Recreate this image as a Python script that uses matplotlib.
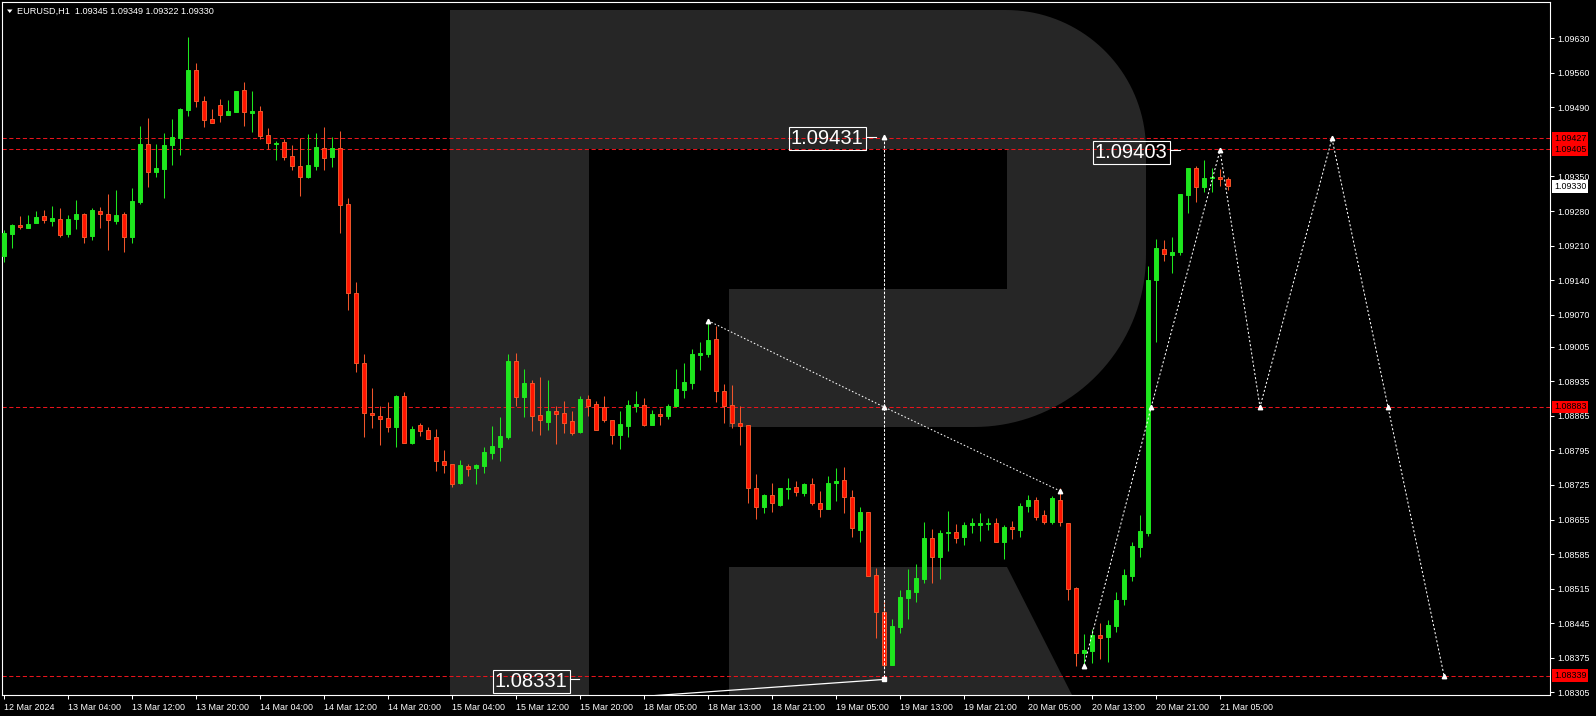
import numpy as np
import matplotlib
matplotlib.use('Agg')
import matplotlib.pyplot as plt
from matplotlib.patches import Polygon, Rectangle
from matplotlib.transforms import blended_transform_factory

plt.rcParams['font.family'] = ['Liberation Sans', 'DejaVu Sans']

# ---- data (EURUSD H1) ----
bar_open = [
    1.09188, 1.09234, 1.09252, 1.09246, 1.09256, 1.09270, 1.09260, 1.09264, 1.09234, 1.09263,
    1.09274, 1.09230, 1.09280, 1.09274, 1.09260, 1.09274, 1.09228, 1.09299, 1.09416, 1.09360,
    1.09366, 1.09414, 1.09428, 1.09485, 1.09566, 1.09503, 1.09467, 1.09495, 1.09475, 1.09481,
    1.09525, 1.09479, 1.09483, 1.09434, 1.09416, 1.09420, 1.09392, 1.09371, 1.09348, 1.09372,
    1.09408, 1.09390, 1.09408, 1.09294, 1.09113, 1.08972, 1.08870, 1.08865, 1.08860, 1.08843,
    1.08905, 1.08811, 1.08847, 1.08836, 1.08822, 1.08774, 1.08768, 1.08728, 1.08764, 1.08760,
    1.08764, 1.08790, 1.08801, 1.08823, 1.08976, 1.08904, 1.08932, 1.08867, 1.08853, 1.08875,
    1.08871, 1.08855, 1.08832, 1.08899, 1.08889, 1.08883, 1.08857, 1.08827, 1.08845, 1.08885,
    1.08887, 1.08847, 1.08869, 1.08865, 1.08884, 1.08918, 1.08932, 1.08989, 1.08990, 1.09020,
    1.08915, 1.08887, 1.08850, 1.08846, 1.08718, 1.08681, 1.08704, 1.08685, 1.08716, 1.08720,
    1.08709, 1.08727, 1.08688, 1.08677, 1.08728, 1.08735, 1.08700, 1.08634, 1.08670, 1.08542,
    1.08468, 1.08361, 1.08438, 1.08497, 1.08509, 1.08535, 1.08618, 1.08579, 1.08628, 1.08629,
    1.08620, 1.08643, 1.08643, 1.08645, 1.08647, 1.08610, 1.08639, 1.08634, 1.08682, 1.08695,
    1.08664, 1.08651, 1.08694, 1.08648, 1.08516, 1.08384, 1.08389, 1.08421, 1.08416, 1.08440,
    1.08493, 1.08541, 1.08600, 1.08628, 1.09140, 1.09203, 1.09190, 1.09196, 1.09313, 1.09367,
    1.09329, 1.09347, 1.09349, 1.09345,
]
bar_high = [
    1.09242, 1.09254, 1.09270, 1.09272, 1.09280, 1.09282, 1.09290, 1.09286, 1.09272, 1.09302,
    1.09277, 1.09286, 1.09288, 1.09315, 1.09323, 1.09278, 1.09327, 1.09452, 1.09469, 1.09416,
    1.09438, 1.09467, 1.09489, 1.09633, 1.09580, 1.09513, 1.09487, 1.09507, 1.09505, 1.09523,
    1.09542, 1.09523, 1.09493, 1.09448, 1.09422, 1.09426, 1.09414, 1.09428, 1.09436, 1.09438,
    1.09450, 1.09430, 1.09442, 1.09307, 1.09137, 1.08990, 1.08922, 1.08885, 1.08893, 1.08907,
    1.08913, 1.08845, 1.08851, 1.08843, 1.08838, 1.08796, 1.08768, 1.08776, 1.08768, 1.08768,
    1.08802, 1.08845, 1.08863, 1.08990, 1.08992, 1.08960, 1.08938, 1.08944, 1.08938, 1.08885,
    1.08895, 1.08875, 1.08905, 1.08907, 1.08895, 1.08905, 1.08857, 1.08875, 1.08897, 1.08915,
    1.08901, 1.08877, 1.08881, 1.08889, 1.08960, 1.08972, 1.09001, 1.09015, 1.09057, 1.09047,
    1.08929, 1.08928, 1.08885, 1.08846, 1.08747, 1.08707, 1.08729, 1.08718, 1.08739, 1.08733,
    1.08729, 1.08739, 1.08713, 1.08743, 1.08759, 1.08762, 1.08715, 1.08680, 1.08670, 1.08557,
    1.08492, 1.08454, 1.08512, 1.08555, 1.08565, 1.08650, 1.08636, 1.08634, 1.08672, 1.08645,
    1.08650, 1.08658, 1.08668, 1.08658, 1.08658, 1.08643, 1.08652, 1.08689, 1.08705, 1.08701,
    1.08674, 1.08703, 1.08719, 1.08648, 1.08518, 1.08424, 1.08433, 1.08445, 1.08451, 1.08508,
    1.08555, 1.08609, 1.08664, 1.09169, 1.09223, 1.09222, 1.09227, 1.09315, 1.09367, 1.09371,
    1.09383, 1.09367, 1.09365, 1.09349,
]
bar_low = [
    1.09177, 1.09206, 1.09244, 1.09246, 1.09256, 1.09256, 1.09250, 1.09228, 1.09228, 1.09244,
    1.09216, 1.09222, 1.09246, 1.09202, 1.09254, 1.09196, 1.09216, 1.09295, 1.09329, 1.09348,
    1.09307, 1.09374, 1.09394, 1.09473, 1.09491, 1.09451, 1.09459, 1.09461, 1.09475, 1.09481,
    1.09453, 1.09441, 1.09425, 1.09406, 1.09384, 1.09384, 1.09364, 1.09311, 1.09346, 1.09364,
    1.09364, 1.09370, 1.09236, 1.09080, 1.08953, 1.08823, 1.08841, 1.08805, 1.08833, 1.08801,
    1.08811, 1.08809, 1.08825, 1.08819, 1.08754, 1.08750, 1.08720, 1.08726, 1.08744, 1.08726,
    1.08750, 1.08778, 1.08774, 1.08819, 1.08886, 1.08863, 1.08835, 1.08827, 1.08837, 1.08809,
    1.08831, 1.08827, 1.08831, 1.08865, 1.08837, 1.08853, 1.08809, 1.08797, 1.08823, 1.08872,
    1.08845, 1.08847, 1.08847, 1.08859, 1.08884, 1.08902, 1.08920, 1.08957, 1.08984, 1.08893,
    1.08850, 1.08840, 1.08805, 1.08688, 1.08656, 1.08668, 1.08671, 1.08682, 1.08697, 1.08703,
    1.08703, 1.08685, 1.08661, 1.08677, 1.08693, 1.08669, 1.08620, 1.08610, 1.08541, 1.08414,
    1.08357, 1.08361, 1.08425, 1.08453, 1.08487, 1.08527, 1.08527, 1.08534, 1.08592, 1.08608,
    1.08604, 1.08628, 1.08612, 1.08634, 1.08609, 1.08576, 1.08615, 1.08620, 1.08671, 1.08655,
    1.08645, 1.08645, 1.08642, 1.08491, 1.08359, 1.08363, 1.08365, 1.08373, 1.08366, 1.08428,
    1.08481, 1.08531, 1.08579, 1.08621, 1.09014, 1.09179, 1.09155, 1.09191, 1.09277, 1.09298,
    1.09318, 1.09318, 1.09330, 1.09322,
]
bar_close = [
    1.09236, 1.09252, 1.09248, 1.09254, 1.09268, 1.09261, 1.09266, 1.09232, 1.09264, 1.09274,
    1.09228, 1.09282, 1.09275, 1.09261, 1.09272, 1.09228, 1.09300, 1.09416, 1.09360, 1.09367,
    1.09414, 1.09430, 1.09487, 1.09566, 1.09502, 1.09465, 1.09459, 1.09475, 1.09483, 1.09523,
    1.09481, 1.09483, 1.09433, 1.09417, 1.09417, 1.09390, 1.09372, 1.09348, 1.09373, 1.09410,
    1.09388, 1.09408, 1.09293, 1.09113, 1.08973, 1.08870, 1.08866, 1.08858, 1.08843, 1.08905,
    1.08811, 1.08838, 1.08835, 1.08819, 1.08774, 1.08766, 1.08726, 1.08766, 1.08757, 1.08766,
    1.08792, 1.08804, 1.08824, 1.08976, 1.08904, 1.08932, 1.08865, 1.08857, 1.08875, 1.08869,
    1.08851, 1.08831, 1.08899, 1.08886, 1.08837, 1.08857, 1.08827, 1.08849, 1.08887, 1.08889,
    1.08847, 1.08869, 1.08865, 1.08885, 1.08920, 1.08934, 1.08990, 1.08992, 1.09019, 1.08916,
    1.08886, 1.08850, 1.08845, 1.08718, 1.08680, 1.08704, 1.08688, 1.08718, 1.08719, 1.08711,
    1.08727, 1.08688, 1.08676, 1.08729, 1.08733, 1.08700, 1.08637, 1.08670, 1.08541, 1.08468,
    1.08361, 1.08439, 1.08498, 1.08512, 1.08537, 1.08618, 1.08579, 1.08628, 1.08630, 1.08618,
    1.08643, 1.08648, 1.08648, 1.08648, 1.08610, 1.08639, 1.08636, 1.08682, 1.08695, 1.08661,
    1.08651, 1.08699, 1.08649, 1.08515, 1.08384, 1.08391, 1.08421, 1.08414, 1.08441, 1.08492,
    1.08543, 1.08601, 1.08632, 1.09140, 1.09205, 1.09192, 1.09197, 1.09315, 1.09367, 1.09329,
    1.09347, 1.09348, 1.09344, 1.09330,
]

time_labels = ['12 Mar 2024', '13 Mar 04:00', '13 Mar 12:00', '13 Mar 20:00', '14 Mar 04:00',
               '14 Mar 12:00', '14 Mar 20:00', '15 Mar 04:00', '15 Mar 12:00', '15 Mar 20:00',
               '18 Mar 05:00', '18 Mar 13:00', '18 Mar 21:00', '19 Mar 05:00', '19 Mar 13:00',
               '19 Mar 21:00', '20 Mar 05:00', '20 Mar 13:00', '20 Mar 21:00', '21 Mar 05:00']
label_every = 8

price_ticks = [1.09630, 1.09560, 1.09490, 1.09350, 1.09280, 1.09210, 1.09140, 1.09070,
               1.09005, 1.08935, 1.08865, 1.08795, 1.08725, 1.08655, 1.08585, 1.08515,
               1.08445, 1.08375, 1.08305]
levels = [1.09427, 1.09405, 1.08883, 1.08339]
last_price = 1.09330

# forecast path (bar, price)
forecast_bars = [135, 143.4, 152, 157, 166, 173, 180]
forecast_prices = [1.08359, 1.08883, 1.09403, 1.08883, 1.09427, 1.08883, 1.08339]
# triangle side from the 18 Mar top
tri_bars = [88, 110, 132]
tri_prices = [1.09058, 1.08883, 1.08713]
# vertical measure + bottom trendline
vert_bar = 110
vert_prices = [1.09431, 1.08331]
trend_bars = [60, 110]
trend_prices = [1.08274, 1.08331]
# text boxes: (text, right-edge bar, connector end bar, price)
boxes = [('1.09431', 107.75, 109.0, 1.09431),
         ('1.09403', 145.75, 147.0, 1.09403),
         ('1.08331', 70.75, 71.9, 1.08331)]

# ---- figure ----
W, H, DPI = 1596, 716, 100
fig = plt.figure(figsize=(W / DPI, H / DPI), dpi=DPI, facecolor='black')

# watermark "R" drawn in pixel space on a background axes
bg = fig.add_axes([0, 0, 1, 1], zorder=0)
bg.set_xlim(0, W)
bg.set_ylim(H, 0)
bg.axis('off')
logo_col = '#262626'


def arc(cx, cy, r, a0, a1, n=40):
    t = np.radians(np.linspace(a0, a1, n))
    return list(zip(cx + r * np.cos(t), cy - r * np.sin(t)))


rt, rb = 140, 172
bowl = [(589, 10), (1146 - rt, 10)] + arc(1146 - rt, 10 + rt, rt, 90, 0) \
    + arc(1146 - rb, 427 - rb, rb, 0, -90) \
    + [(729, 427), (729, 289), (1007, 289), (1007, 149), (589, 149)]
bg.add_patch(Polygon(bowl, closed=True, fc=logo_col, ec='none'))
bg.add_patch(Rectangle((450, 10), 139, 685, fc=logo_col, ec='none'))
bg.add_patch(Polygon([(729, 567), (1007, 567), (1072, 695), (729, 695)],
                     closed=True, fc=logo_col, ec='none'))

# header
bg.add_patch(Polygon([(7, 9.5), (12.5, 9.5), (9.75, 13)], closed=True, fc='white', ec='none'))
bg.text(17, 11.5, 'EURUSD,H1  1.09345 1.09349 1.09322 1.09330', color='white',
        fontsize=6.6, va='center', ha='left')

# main axes
ax = fig.add_axes([2 / W, 1 - 695 / H, 1548 / W, 693 / H], zorder=1)
ax.set_facecolor('none')
ax.set_xlim(-0.25, 193.25)
ax.set_ylim(1.082995, 1.097035)

o = np.array(bar_open)
h = np.array(bar_high)
l = np.array(bar_low)
c = np.array(bar_close)
x = np.arange(len(o))
up = c >= o

green = '#1ee61e'
red_fill = '#ff1400'
red_edge = '#f0552a'

ax.vlines(x[up], l[up], h[up], color=green, lw=0.75, zorder=3)
ax.vlines(x[~up], l[~up], h[~up], color=red_edge, lw=0.75, zorder=3)
body_lo = np.minimum(o, c)
body_h = np.maximum(np.abs(c - o), 0.000004)
ax.bar(x[up], body_h[up], bottom=body_lo[up], width=0.55, color=green,
       edgecolor=green, lw=0.7, zorder=4)
ax.bar(x[~up], body_h[~up], bottom=body_lo[~up], width=0.55, color=red_fill,
       edgecolor=red_edge, lw=0.7, zorder=4)

# horizontal levels
for lv in levels:
    ax.axhline(lv, color='#e8141c', lw=0.75, ls=(0, (4, 2.5)), zorder=2)

# annotation lines
ax.plot(tri_bars, tri_prices, color='white', lw=0.75, ls=(0, (1.5, 2)), zorder=5)
ax.plot([vert_bar, vert_bar], vert_prices, color='white', lw=0.75, ls=(0, (2.5, 1.5)), zorder=5)
ax.plot(trend_bars, trend_prices, color='white', lw=0.9, zorder=5)
ax.plot(forecast_bars, forecast_prices, color='white', lw=0.75, ls=(0, (2, 2)), zorder=5)

mk = dict(ls='none', color='white', zorder=6)
ax.plot(forecast_bars, forecast_prices, marker='^', ms=3.2, **mk)
ax.plot(tri_bars, tri_prices, marker='^', ms=3.2, **mk)
ax.plot([vert_bar], [vert_prices[0]], marker='^', ms=3.2, **mk)
ax.plot([vert_bar], [vert_prices[1]], marker='s', ms=3.2, **mk)

for txt, xr, xc, pr in boxes:
    ax.text(xr - 0.3, pr, txt, color='white', fontsize=14.5, ha='right', va='center_baseline',
            bbox=dict(boxstyle='square,pad=0.1', fc='none', ec='white', lw=0.8), zorder=6)
    ax.plot([xr, xc], [pr, pr], color='white', lw=0.8, zorder=6)

# axes styling
for s in ax.spines.values():
    s.set_color('white')
    s.set_linewidth(0.8)
ax.yaxis.tick_right()
ax.set_yticks(price_ticks)
ax.set_yticklabels(['%.5f' % p for p in price_ticks])
ax.tick_params(axis='y', colors='white', length=3, width=0.75, labelsize=6.4, pad=2)
tick_bars = np.arange(len(time_labels)) * label_every
ax.set_xticks(tick_bars)
ax.set_xticklabels(time_labels, ha='left')
ax.tick_params(axis='x', colors='white', length=3, width=0.75, labelsize=6.4, pad=2.5)

# price tags on the scale
tr = blended_transform_factory(ax.transAxes, ax.transData)
for lv in levels:
    ax.text(1.0025, lv, '%.5f' % lv, transform=tr, color='black', fontsize=6.4,
            ha='left', va='center', clip_on=False, zorder=7,
            bbox=dict(boxstyle='square,pad=0.22', fc='#ff0000', ec='none'))
ax.text(1.0025, last_price, '%.5f' % last_price, transform=tr, color='black', fontsize=6.4,
        ha='left', va='center', clip_on=False, zorder=7,
        bbox=dict(boxstyle='square,pad=0.22', fc='white', ec='none'))

fig.savefig('out.png', dpi=DPI, facecolor='black')
